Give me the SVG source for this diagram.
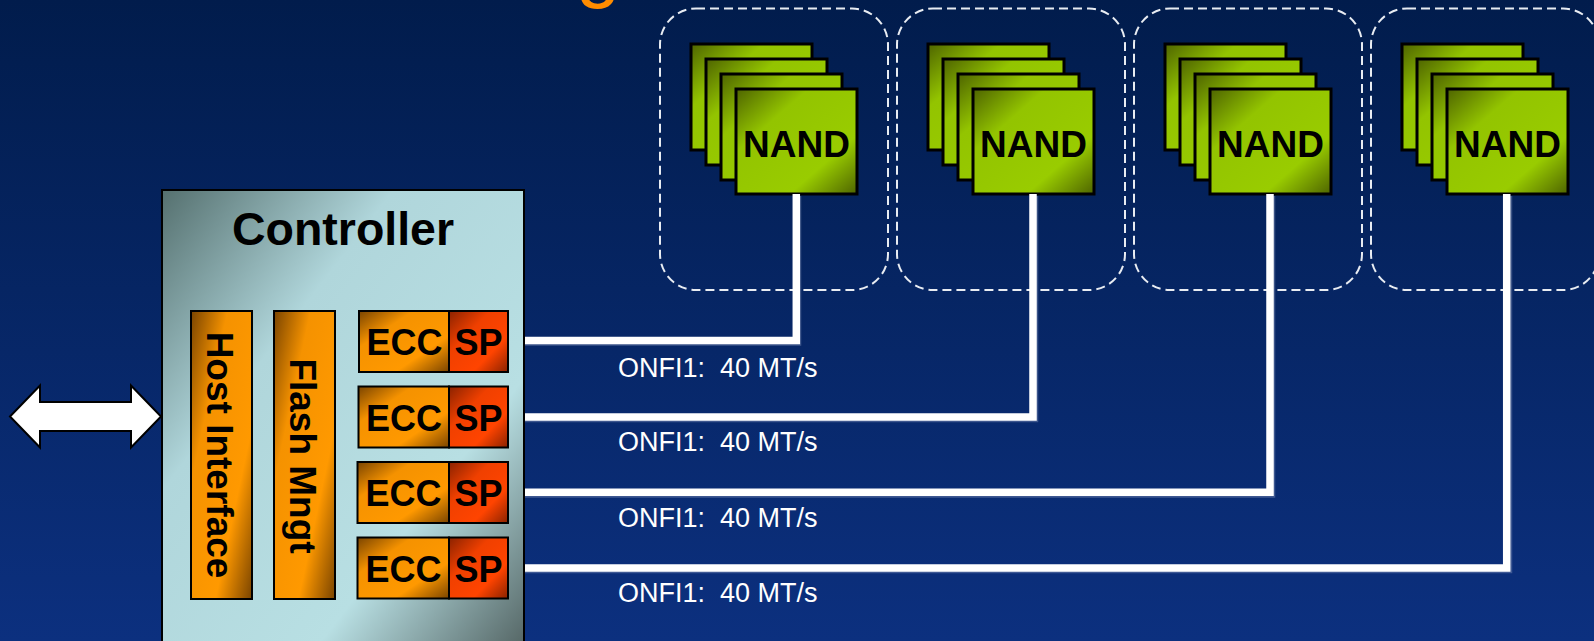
<svg xmlns="http://www.w3.org/2000/svg" width="1594" height="641" viewBox="0 0 1594 641">
  <defs>
    <linearGradient id="bg" x1="0" y1="0" x2="0" y2="1">
      <stop offset="0" stop-color="#011c4c"/>
      <stop offset="1" stop-color="#0c307f"/>
    </linearGradient>
    <linearGradient id="ctrlFill" x1="0" y1="0" x2="1" y2="1">
      <stop offset="0" stop-color="#55706f"/>
      <stop offset="0.32" stop-color="#b0d6db"/>
      <stop offset="0.7" stop-color="#b8dfe3"/>
      <stop offset="1" stop-color="#50605f"/>
    </linearGradient>
    <linearGradient id="nandFill" x1="0" y1="0" x2="1" y2="1">
      <stop offset="0" stop-color="#4e6400"/>
      <stop offset="0.3" stop-color="#93c400"/>
      <stop offset="0.72" stop-color="#99cc00"/>
      <stop offset="1" stop-color="#4e6400"/>
    </linearGradient>
    <linearGradient id="orangeFill" x1="0" y1="0" x2="1" y2="1">
      <stop offset="0" stop-color="#7a4400"/>
      <stop offset="0.3" stop-color="#f59200"/>
      <stop offset="0.7" stop-color="#ff9900"/>
      <stop offset="1" stop-color="#7a4400"/>
    </linearGradient>
    <linearGradient id="spFill" x1="0" y1="0" x2="1" y2="1">
      <stop offset="0" stop-color="#8a2200"/>
      <stop offset="0.35" stop-color="#f04000"/>
      <stop offset="0.7" stop-color="#ff4400"/>
      <stop offset="1" stop-color="#8a2200"/>
    </linearGradient>
    <style>
      .sans { font-family: "Liberation Sans", Arial, sans-serif; }
      .bold { font-weight: bold; fill: #000; }
      .group { fill: none; stroke: #e8ecf2; stroke-width: 2; stroke-dasharray: 9 5; }
      .chip { fill: url(#nandFill); stroke: #000; stroke-width: 3; }
      .nandLabel { font-size: 37px; text-anchor: middle; }
      .block { fill: url(#orangeFill); stroke: #000; stroke-width: 2; }
      .sp { fill: url(#spFill); stroke: #000; stroke-width: 2; }
      .cellLabel { font-size: 36px; text-anchor: middle; }
      .barLabel { font-size: 37px; text-anchor: middle; }
      .bus { fill: none; stroke: #ffffff; stroke-width: 7.5; stroke-linejoin: miter; stroke-linecap: butt; }
      .busShadow { fill: none; stroke: #7f8fb5; stroke-width: 7.5; stroke-linejoin: miter; opacity: 0.45; }
      .rate { font-size: 27px; fill: #ffffff; white-space: pre; }
    </style>
    <!-- one stack of four NAND dies, front die at (45,45) -->
    <g id="nandStack">
      <rect class="chip" x="0" y="0" width="121" height="106"/>
      <rect class="chip" x="15" y="15" width="121" height="106"/>
      <rect class="chip" x="30" y="30" width="121" height="106"/>
      <rect class="chip" x="45" y="45" width="121" height="105"/>
      <text class="sans bold nandLabel" x="105.5" y="113">NAND</text>
    </g>
  </defs>

  <!-- background -->
  <rect x="0" y="0" width="1594" height="641" fill="url(#bg)"/>

  <!-- title descender peeking in at the top edge -->
  <text class="sans" x="576" y="-8" font-size="80" fill="#ff8c00">g</text>

  <!-- NAND channels -->
  <g id="channel1">
    <rect class="group" x="660" y="8.5" width="228" height="281.5" rx="36" ry="36"/>
    <use href="#nandStack" x="691" y="44"/>
  </g>
  <g id="channel2">
    <rect class="group" x="897" y="8.5" width="228" height="281.5" rx="36" ry="36"/>
    <use href="#nandStack" x="928" y="44"/>
  </g>
  <g id="channel3">
    <rect class="group" x="1134" y="8.5" width="228" height="281.5" rx="36" ry="36"/>
    <use href="#nandStack" x="1165" y="44"/>
  </g>
  <g id="channel4">
    <rect class="group" x="1371" y="8.5" width="228" height="281.5" rx="36" ry="36"/>
    <use href="#nandStack" x="1402" y="44"/>
  </g>

  <!-- controller -->
  <g id="controller">
    <rect x="162" y="190" width="362" height="470" fill="url(#ctrlFill)" stroke="#000" stroke-width="2"/>
    <text class="sans bold" x="343" y="245" font-size="46.5" text-anchor="middle">Controller</text>
  </g>

  <g id="hostInterface">
    <rect class="block" x="191" y="311" width="61" height="288"/>
    <text class="sans bold barLabel" transform="translate(207 455) rotate(90)">Host Interface</text>
  </g>

  <g id="flashMngt">
    <rect class="block" x="274" y="311" width="61" height="288"/>
    <text class="sans bold barLabel" transform="translate(290 456) rotate(90)">Flash Mngt</text>
  </g>

  <g id="eccSp1">
    <rect class="block" x="359" y="311" width="90" height="61"/>
    <rect class="sp" x="449" y="311" width="59" height="61"/>
    <text class="sans bold cellLabel" x="404.5" y="355">ECC</text>
    <text class="sans bold cellLabel" x="478.5" y="355">SP</text>
  </g>
  <g id="eccSp2">
    <rect class="block" x="358.5" y="386.5" width="90.5" height="61"/>
    <rect class="sp" x="449" y="386.5" width="59" height="61"/>
    <text class="sans bold cellLabel" x="404" y="430.5">ECC</text>
    <text class="sans bold cellLabel" x="478.5" y="430.5">SP</text>
  </g>
  <g id="eccSp3">
    <rect class="block" x="357.5" y="462" width="91.5" height="61"/>
    <rect class="sp" x="449" y="462" width="59" height="61"/>
    <text class="sans bold cellLabel" x="403.5" y="506">ECC</text>
    <text class="sans bold cellLabel" x="478.5" y="506">SP</text>
  </g>
  <g id="eccSp4">
    <rect class="block" x="357.5" y="537.5" width="91.5" height="61"/>
    <rect class="sp" x="449" y="537.5" width="59" height="61"/>
    <text class="sans bold cellLabel" x="403.5" y="581.5">ECC</text>
    <text class="sans bold cellLabel" x="478.5" y="581.5">SP</text>
  </g>

  <!-- host link -->
  <g id="hostLink">
    <polygon points="10,416.5 40,385.5 40,402 131,402 131,385.5 161,416.5 131,447.5 131,431 40,431 40,447.5" fill="#ffffff" stroke="#000" stroke-width="2" stroke-linejoin="miter"/>
  </g>

  <!-- ONFI buses from each ECC/SP engine to its NAND stack -->
  <g id="connectors">
    <polyline class="busShadow" points="525,342 797.5,342 797.5,196"/>
    <polyline class="busShadow" points="525,418.5 1034.5,418.5 1034.5,196"/>
    <polyline class="busShadow" points="525,494 1271.5,494 1271.5,196"/>
    <polyline class="busShadow" points="525,569.5 1508.5,569.5 1508.5,196"/>
    <polyline class="bus" points="525,340.5 796.3,340.5 796.3,194"/>
    <polyline class="bus" points="525,417 1033,417 1033,194"/>
    <polyline class="bus" points="525,492.3 1270,492.3 1270,194"/>
    <polyline class="bus" points="525,568 1506.7,568 1506.7,194"/>
    <text class="sans rate" x="618" y="377.3">ONFI1:  40 MT/s</text>
    <text class="sans rate" x="618" y="450.7">ONFI1:  40 MT/s</text>
    <text class="sans rate" x="618" y="526.7">ONFI1:  40 MT/s</text>
    <text class="sans rate" x="618" y="601.7">ONFI1:  40 MT/s</text>
  </g>
</svg>
